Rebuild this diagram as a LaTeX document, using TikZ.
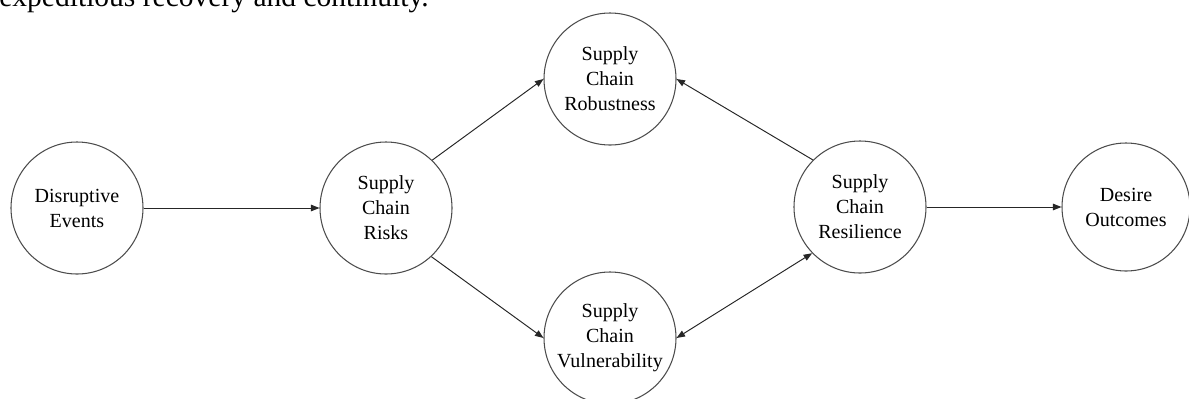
\documentclass[tikz,border=0pt]{standalone}
\usepackage{fontspec}
\setmainfont{Liberation Serif}
\usepackage{tikz}
\usetikzlibrary{arrows.meta,positioning}
\usepackage{xcolor}

\begin{document}
\begin{tikzpicture}[
    factor/.style={circle,draw=black!70,line width=0.6pt,minimum size=2.64cm,inner sep=0pt,
        align=center,font=\fontsize{11.4}{14.2}\selectfont},
    link/.style={draw=black!85,line width=0.55pt,-{Triangle[length=1.7mm,width=1.3mm]}}]
                    \useasboundingbox (0,0) rectangle (23.78,-7.96);
                    \clip (0,0) rectangle (23.78,-7.96);
                    \node[anchor=base west,inner sep=0pt,font=\fontsize{16.8}{20}\selectfont] (caption) at (-0.02,-0.13) {expeditious recovery and continuity.};
                    \node[factor] (disr) at (1.54,-4.16) {Disruptive\\Events};
                    \node[factor] (risks) at (7.72,-4.16) {Supply\\Chain\\Risks};
                    \node[factor] (robust) at (12.2,-1.58) {Supply\\Chain\\Robustness};
                    \node[factor] (vuln) at (12.2,-6.76) {Supply\\Chain\\Vulnerability};
                    \node[factor] (resil) at (17.2,-4.14) {Supply\\Chain\\Resilience};
                    \node[factor,minimum size=2.56cm] (desire) at (22.52,-4.14) {Desire\\Outcomes};
                    \draw[link] (disr) -- (risks);
                    \draw[link] (risks.46) -- (robust.west);
                    \draw[link] (risks.-47) -- (vuln.west);
                    \draw[link] (resil.135) -- (robust.east);
                    \draw[link,{Triangle[length=1.7mm,width=1.3mm]}-{Triangle[length=1.7mm,width=1.3mm]}] (resil.-136) -- (vuln.east);
                    \draw[link] (resil) -- (desire);
                \end{tikzpicture}
\end{document}
